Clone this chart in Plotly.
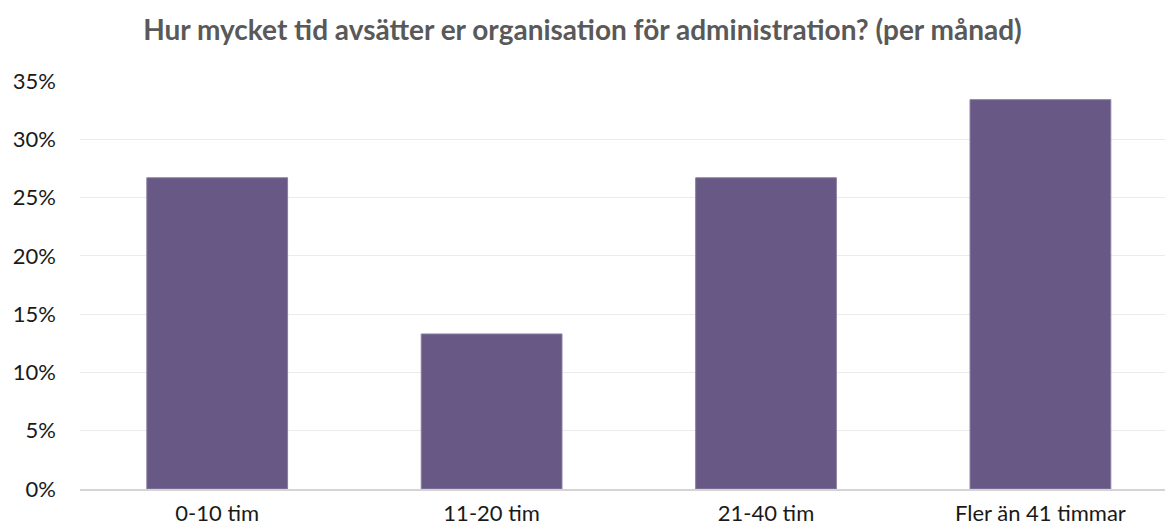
import plotly.graph_objects as go

categories = ["0-10 tim", "11-20 tim", "21-40 tim", "Fler än 41 timmar"]
values = [0.267, 0.133, 0.267, 0.334]
y_ticks = [0, 0.05, 0.10, 0.15, 0.20, 0.25, 0.30, 0.35]
y_tick_labels = ["0%", "5%", "10%", "15%", "20%", "25%", "30%", "35%"]
title_text = "Hur mycket tid avsätter er organisation för administration? (per månad)"

fig = go.Figure(go.Bar(
    x=categories, y=values,
    marker=dict(color="#685885", line=dict(color="#8a7fa3", width=1)),
))

fig.update_layout(
    width=1165, height=529,
    paper_bgcolor="white", plot_bgcolor="white",
    margin=dict(l=80, r=0, t=81, b=40),
    bargap=0.487,
    showlegend=False,
    font=dict(family="Lato", color="#1a1a1a", size=22),
    title=dict(text=title_text, x=0.5, xanchor="center", xref="container",
               y=0.942, yanchor="middle",
               font=dict(family="Lato", size=28, color="#595959", weight="bold")),
)
fig.update_xaxes(range=[-0.5, 3.454], showgrid=False, showline=True,
                 linecolor="#d4d4d4", linewidth=2, ticks="", tickfont=dict(size=22),
                 ticklabelstandoff=4, automargin=False)
fig.update_yaxes(range=[0, 0.35], tickvals=y_ticks, ticktext=y_tick_labels,
                 showgrid=True, gridcolor="#ebebeb", gridwidth=1,
                 zeroline=False, showline=False, ticks="", ticklabelstandoff=23,
                 tickfont=dict(size=22), automargin=False)

fig.write_html("out.html", config={"displayModeBar": False},
               post_script="document.body.style.margin='0';")
